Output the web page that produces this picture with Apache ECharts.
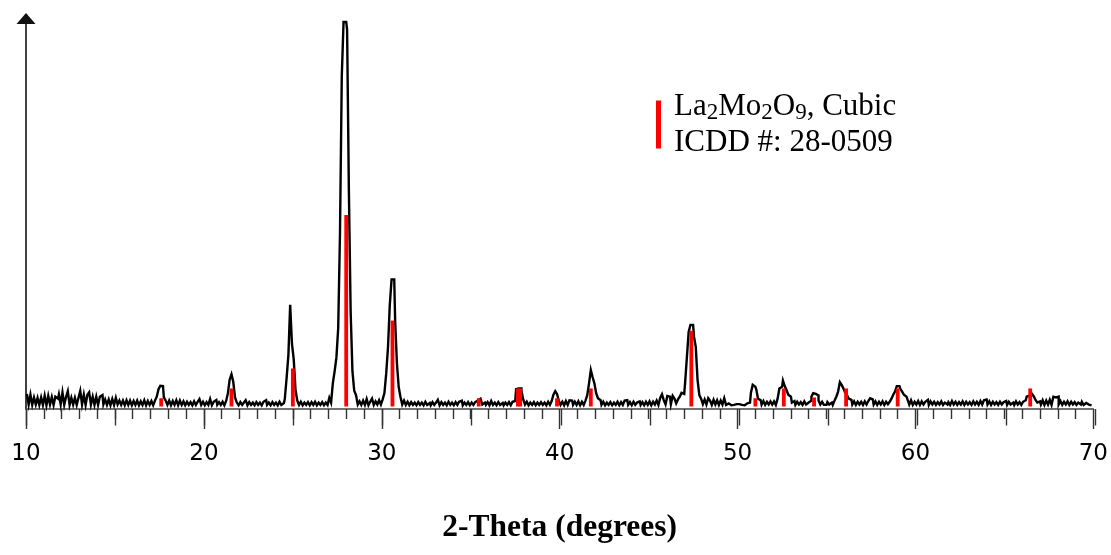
<!DOCTYPE html>
<html>
<head>
<meta charset="utf-8">
<script src="https://cdn.jsdelivr.net/npm/echarts@6/dist/echarts.min.js"></script>
<style>html,body{margin:0;padding:0;background:#fff}#chart{width:1111px;height:555px}</style>
</head>
<body>
<div id="chart"></div>
<script>
// Measured XRD pattern, sampled every 0.1 degree from 10.0 to 69.9 (one row per degree)
const START_ANGLE = 10;
const STEP = 0.1;
const counts = [
  null, 3.2, 0.5, 3.0, 0.4, 2.3, 0.5, 2.2, 0.4, 2.3,
  0.4, 2.75, 0.3, 2.7, 0.5, 2.4, 0.4, 2.5, 2.0, 3.1,
  0.5, 3.6, 0.4, 2.4, 3.9, 0.4, 2.2, 0.5, 2.2, 0.4,
  2.2, 4.0, 0.5, 3.0, 0.4, 3.0, 3.6, 0.5, 2.5, 0.4,
  2.5, 0.4, 2.5, 2.9, 0.5, 1.8, 0.4, 1.8, 0.3, 1.9,
  0.4, 2.2, 0.5, 1.5, 0.4, 1.5, 0.3, 1.6, 0.4, 1.5,
  0.3, 1.4, 0.4, 1.5, 0.3, 1.3, 0.4, 1.6, 0.3, 1.4,
  0.4, 1.4, 0.3, 1.5, 2.5, 4.4, 5.3, 5.2, 2.3, 1.5,
  0.4, 1.5, 0.3, 1.4, 0.4, 1.6, 0.3, 1.5, 0.4, 1.3,
  0.3, 1.2, 0.4, 1.1, 0.3, 1.3, 0.4, 1.2, 1.9, 0.4,
  1.2, 0.3, 1.1, 0.4, 1.9, 0.3, 1.2, 1.65, 0.4, 1.1,
  0.4, 1.2, 0.3, 1.4, 3.4, 6.9, 8.2, 6.3, 2.3, 1.0,
  0.3, 1.1, 0.4, 1.0, 1.6, 0.3, 1.1, 0.4, 1.0, 0.3,
  1.1, 0.4, 1.0, 0.3, 1.2, 1.6, 0.4, 1.0, 0.3, 1.1,
  0.4, 1.0, 0.3, 1.2, 0.4, 0.9, 2.0, 7.3, 13.1, 25.9,
  16.0, 12.0, 4.2, 1.5, 0.4, 1.2, 0.3, 1.0, 0.4, 1.1,
  0.3, 1.1, 0.4, 1.2, 0.3, 1.0, 0.4, 1.1, 0.3, 1.0,
  0.4, 2.2, 1.0, 6.0, 9.0, 12.5, 20, 44, 84, 98,
  98, 96, 55, 24, 9, 4, 2.9, 0.5, 1.3, 0.4,
  1.5, 0.4, 1.9, 0.3, 1.2, 2.0, 0.4, 1.3, 0.5, 1.6,
  0.5, 1.8, 3.5, 8.5, 15.2, 25.9, 32.4, 32.4, 22, 11,
  5.0, 2.4, 0.5, 1.5, 0.4, 1.2, 0.3, 1.1, 0.4, 1.0,
  0.3, 1.1, 0.4, 1.0, 0.3, 1.2, 0.4, 0.9, 0.3, 1.1,
  0.4, 1.0, 1.7, 0.3, 1.1, 0.4, 1.0, 0.3, 1.2, 0.4,
  1.0, 0.3, 1.1, 0.4, 1.2, 1.5, 0.3, 1.0, 0.4, 1.1,
  0.3, 1.0, 0.4, 1.1, 1.5, 2.0, 1.9, 0.5, 1.0, 0.4,
  1.1, 0.3, 1.4, 0.4, 1.0, 0.3, 1.1, 0.4, 0.9, 0.3,
  1.0, 0.4, 1.1, 0.3, 1.2, 1.4, 4.4, 4.6, 4.6, 4.0,
  1.8, 0.5, 1.2, 0.3, 1.0, 0.4, 1.1, 0.3, 1.0, 0.4,
  1.1, 0.4, 1.0, 0.3, 1.2, 0.4, 1.4, 3.0, 3.9, 3.2,
  1.5, 0.4, 1.2, 0.3, 1.4, 0.4, 1.6, 1.5, 0.4, 1.2,
  0.4, 1.3, 0.3, 1.2, 0.4, 1.5, 2.9, 5.9, 9.3, 7.5,
  5.9, 3.4, 2.1, 1.6, 0.4, 1.2, 0.3, 1.0, 0.4, 1.1,
  0.3, 1.0, 0.4, 1.2, 0.3, 1.1, 0.4, 1.5, 1.6, 0.4,
  1.1, 0.3, 1.2, 0.4, 1.0, 1.3, 0.4, 1.1, 0.3, 1.2,
  0.4, 1.3, 0.3, 1.2, 0.5, 1.5, 0.4, 2.2, 3.1, 1.6,
  0.5, 2.7, 2.5, 0.6, 2.7, 2.0, 0.8, 1.8, 2.5, 3.5,
  3.2, 6.0, 12.5, 19.0, 20.8, 20.8, 17.8, 15.2, 6.8, 2.9,
  2.0, 0.6, 1.8, 0.5, 2.1, 1.5, 0.4, 1.7, 0.5, 1.6,
  0.4, 1.5, 0.5, 2.1, 0.4, 0.8, 0.3, 0.7, 0.4, 0.6,
  0.3, 0.6, 0.4, 0.7, 0.3, 0.8, 0.4, 1.0, 3.5, 5.5,
  5.0, 4.4, 2.0, 1.6, 0.5, 1.4, 0.4, 1.2, 0.5, 1.3,
  0.5, 1.3, 0.4, 2.0, 4.6, 5.0, 6.6, 5.2, 4.2, 3.0,
  2.5, 1.0, 1.4, 0.4, 1.2, 0.5, 1.1, 0.4, 1.3, 0.5,
  1.0, 1.5, 2.5, 3.4, 3.2, 2.8, 1.5, 0.5, 1.2, 0.4,
  0.4, 1.1, 0.5, 1.0, 0.4, 1.5, 2.5, 3.8, 6.2, 5.5,
  4.6, 3.5, 2.9, 2.0, 1.7, 0.5, 1.3, 0.4, 1.2, 0.5,
  1.2, 0.4, 1.3, 0.5, 1.4, 2.1, 1.8, 0.5, 1.3, 0.4,
  1.2, 0.5, 1.3, 0.4, 1.2, 0.6, 1.2, 2.0, 3.0, 3.8,
  5.2, 5.2, 4.5, 3.8, 3.0, 2.5, 1.8, 0.5, 1.6, 0.4,
  1.2, 0.5, 1.4, 0.4, 1.3, 0.5, 1.2, 1.7, 0.4, 1.3,
  0.5, 1.2, 0.4, 1.1, 0.5, 1.3, 0.4, 1.0, 0.5, 1.1,
  0.4, 1.4, 0.5, 1.2, 0.4, 1.1, 0.5, 1.3, 0.4, 1.2,
  0.5, 1.1, 0.4, 1.3, 0.5, 1.2, 0.4, 1.4, 0.5, 1.6,
  1.8, 0.5, 1.3, 0.4, 1.2, 0.5, 1.1, 0.4, 1.2, 0.5,
  1.1, 1.4, 0.4, 1.2, 0.5, 1.0, 0.4, 1.3, 0.5, 1.1,
  0.4, 1.2, 1.6, 2.5, 2.8, 3.2, 3.5, 2.6, 1.65, 1.0,
  1.3, 0.5, 1.6, 0.4, 1.5, 0.5, 1.7, 0.4, 2.5, 2.3,
  2.5, 0.5, 1.4, 0.4, 1.2, 0.5, 1.3, 0.4, 1.2, 0.5,
  1.1, 0.4, 1.0, 0.5, 1.2, 0.4, 0.9, 0.5, 0.8, 0.3
];

// Reference pattern: La2Mo2O9 cubic, ICDD 28-0509 (stick positions and relative heights)
const stickAngles = [17.6, 21.55, 25.0, 28.0, 30.6, 35.45, 37.65, 37.78, 39.85, 41.75, 47.4, 51.0, 52.6, 54.3, 56.1, 59.0, 66.45];
const stickValues = [2.1, 4.6, 9.7, 48.8, 21.9, 2.1, 4.6, 4.6, 2.1, 4.6, 19.3, 2.1, 4.6, 2.3, 4.6, 4.6, 4.6];

const xTicks = [10, 20, 30, 40, 50, 60, 70];
const refName = 'La2Mo2O9, Cubic ICDD #: 28-0509';
const refLegendLines = ['{n|La}{s|2}{n|Mo}{s|2}{n|O}{s|9}{n|, Cubic}', '{n|ICDD #: 28-0509}'];
const xTitle = '2-Theta (degrees)';

const patternData = counts.map((v, i) => [+(START_ANGLE + i * STEP).toFixed(2), v]);
const stickData = stickAngles.map((a, i) => [a, stickValues[i]]);

const chart = echarts.init(document.getElementById('chart'), null, {renderer: 'canvas'});
const gridBox = {left: 26, right: 15.3, top: 20, bottom: 146};
chart.setOption({
  animation: false,
  backgroundColor: '#ffffff',
  grid: [Object.assign({}, gridBox), Object.assign({}, gridBox)],
  legend: {
    data: [{name: refName, icon: 'rect'}],
    left: 656, top: 91, padding: 0,
    itemWidth: 5, itemHeight: 48,
    selectedMode: false,
    formatter: () => refLegendLines.join('\n'),
    textStyle: {
      padding: [0, 0, 0, 8],
      rich: {
        n: {fontFamily: 'Liberation Serif', fontSize: 31, lineHeight: 36, color: '#000'},
        s: {fontFamily: 'Liberation Serif', fontSize: 23, lineHeight: 27, verticalAlign: 'bottom', color: '#000'}
      }
    }
  },
  xAxis: [{
    type: 'value', gridIndex: 0, min: 10, max: 70, interval: 10,
    axisLine: {onZero: false, lineStyle: {color: '#444', width: 1.6}},
    axisTick: {show: true, length: 20, lineStyle: {color: '#333', width: 1.4}},
    minorTick: {show: true, splitNumber: 10, length: 10, lineStyle: {color: '#333', width: 1.4}},
    splitLine: {show: false},
    axisLabel: {margin: 34, fontFamily: 'DejaVu Sans', fontSize: 23, color: '#000',
      formatter: v => xTicks.indexOf(v) >= 0 ? String(v) : ''},
    name: xTitle, nameLocation: 'middle', nameGap: 103,
    nameTextStyle: {fontFamily: 'Liberation Serif', fontWeight: 'bold', fontSize: 31.5, color: '#000'}
  }, {
    type: 'value', gridIndex: 1, min: 10, max: 70, interval: 5,
    axisLine: {show: false, onZero: false},
    axisTick: {show: true, length: 16.5, lineStyle: {color: '#333', width: 1.4}},
    axisLabel: {show: false}, splitLine: {show: false}
  }],
  yAxis: [{
    type: 'value', gridIndex: 0, min: -0.64, max: 98.5,
    axisLine: {show: true, onZero: false, symbol: ['none', 'triangle'], symbolSize: [19, 11], symbolOffset: [0, 1.5],
      lineStyle: {color: '#111', width: 1.6}},
    axisTick: {show: false}, axisLabel: {show: false}, splitLine: {show: false}
  }, {
    type: 'value', gridIndex: 1, min: -0.64, max: 98.5, show: false
  }],
  series: [{
    name: 'pattern', type: 'line', xAxisIndex: 0, yAxisIndex: 0,
    data: patternData, showSymbol: false, clip: false, z: 2, step: 'middle',
    lineStyle: {color: '#000', width: 2.4, join: 'miter'}
  }, {
    name: refName, type: 'bar', xAxisIndex: 0, yAxisIndex: 0,
    data: stickData, barWidth: 3.8, z: 3,
    itemStyle: {color: '#ff0000'}
  }]
});
</script>
</body>
</html>
